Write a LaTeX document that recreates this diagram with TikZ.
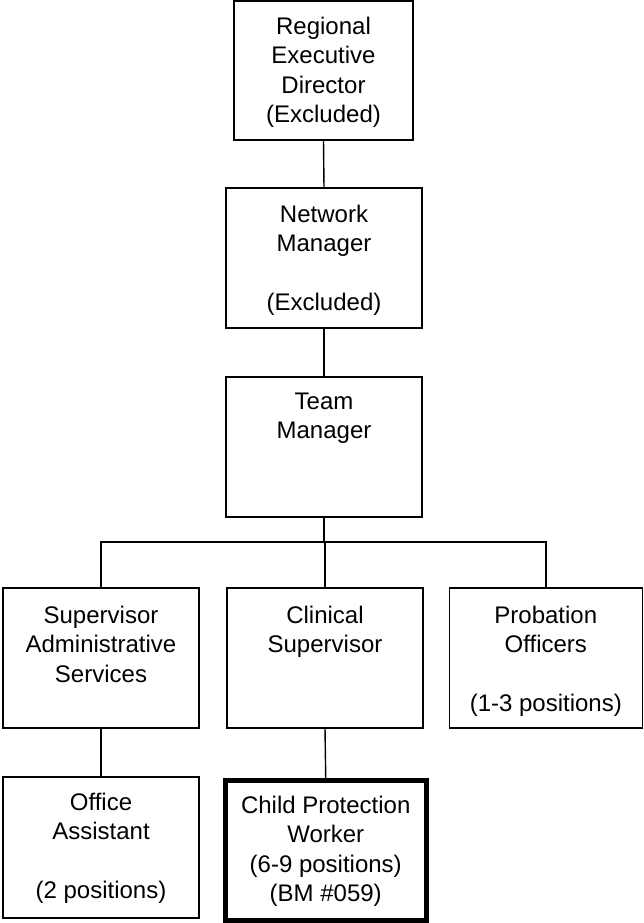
\documentclass[tikz,border=0pt]{standalone}
\usepackage{fontspec}
\setmainfont{Liberation Sans}
\usetikzlibrary{calc}
\begin{document}
\begin{tikzpicture}[x=1pt,y=-1pt,
  box/.style={draw, line width=1.4pt, inner sep=0pt, outer sep=0pt, rectangle},
  thickbox/.style={box, line width=5pt},
  txt/.style={anchor=north, align=center, inner sep=0pt, font=\fontsize{24}{29.5}\selectfont},
  conn/.style={line width=1.4pt}]
\useasboundingbox (0,0) rectangle (644,923);
% boxes
\node[box, minimum width=179pt, minimum height=139pt] (b1) at (323.5,70.5) {};
\node[box, minimum width=196pt, minimum height=140pt] (b2) at (324,258) {};
\node[box, minimum width=196pt, minimum height=140pt] (b3) at (324,447) {};
\node[box, minimum width=196pt, minimum height=140pt] (b4) at (101,658) {};
\node[box, minimum width=196pt, minimum height=140pt] (b5) at (325,658) {};
\node[box, minimum width=193pt, minimum height=140pt] (b6) at (545.8,658) {};
\node[box, minimum width=196pt, minimum height=141pt] (b7) at (101,847.5) {};
\node[thickbox, minimum width=200.5pt, minimum height=140pt] (b8) at (325.75,850) {};
% texts
\node[txt] (t1) at ($(b1.north)+(0,15.6)$) {Regional\\Executive\\Director\\(Excluded)};
\node[txt] (t2) at ($(b2.north)+(0,16.6)$) {Network\\Manager\\[29.5pt](Excluded)};
\node[txt] (t3) at ($(b3.north)+(0,15.6)$) {Team\\Manager};
\node[txt] (t4) at ($(b4.north)+(0,17.6)$) {Supervisor\\Administrative\\Services};
\node[txt] (t5) at ($(b5.north)+(0,17.6)$) {Clinical\\Supervisor};
\node[txt] (t6) at ($(b6.north)+(0,17.6)$) {Probation\\Officers\\[29.5pt](1-3 positions)};
\node[txt] (t7) at ($(b7.north)+(0,15.6)$) {Office\\Assistant\\[29.5pt](2 positions)};
\node[txt] (t8) at ($(b8.north)+(0,15.6)$) {Child Protection\\Worker\\(6-9 positions)\\(BM \#059)};
% connectors
\coordinate (bus) at (324,542);
\draw[conn] (b1.south) -- (b2.north);
\draw[conn] (b2.south) -- (b3.north);
\draw[conn] (b3.south) -- (bus);
\draw[conn] (b4.north) |- (bus) -| (b6.north);
\draw[conn] (b5.north) -- (b5.north |- bus);
\draw[conn] (b4.south) -- (b7.north);
\draw[conn] (b5.south) -- (b8.north);
\end{tikzpicture}
\end{document}
